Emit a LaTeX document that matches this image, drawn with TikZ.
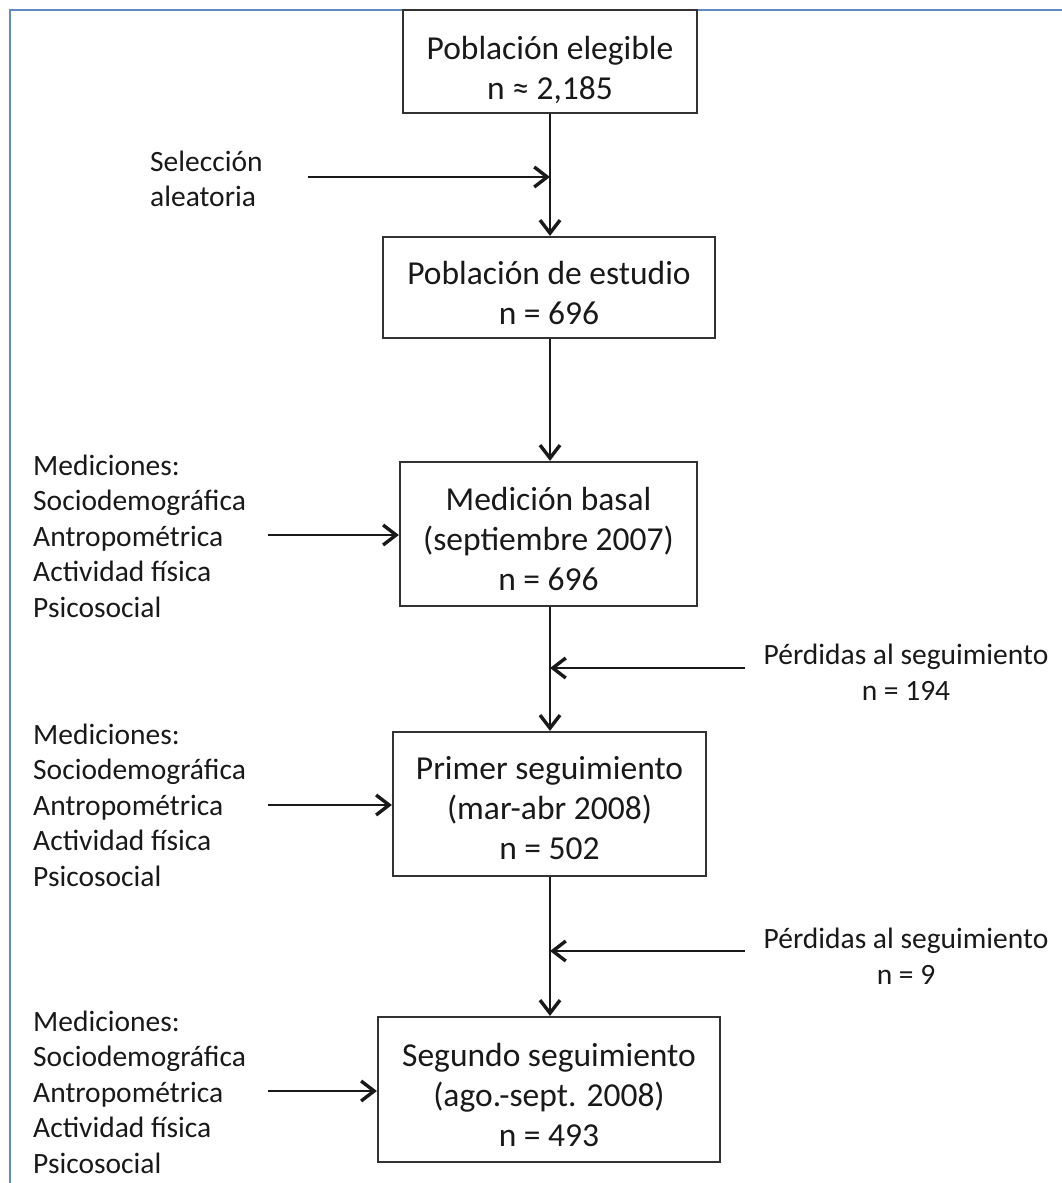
\documentclass[tikz,border=0pt]{standalone}
\usepackage{fontspec}
\setmainfont{Carlito}
\usetikzlibrary{arrows.meta}
\definecolor{boxgray}{RGB}{50,50,50}
\definecolor{linegray}{RGB}{25,25,25}
\definecolor{txtgray}{RGB}{25,25,25}
\definecolor{framec}{RGB}{95,140,200}
\newcommand\tstrut[1]{\rule{0pt}{#1}}
\begin{document}
\begin{tikzpicture}[x=1pt,y=1pt,
 box/.style={draw=boxgray, line width=2.2pt, align=center, inner sep=0pt, font=\fontsize{33.5}{40}\selectfont, text=txtgray},
 side/.style={align=left, inner sep=0pt, font=\fontsize{29.5}{35.5}\selectfont, text=txtgray},
 sidec/.style={align=center, inner sep=0pt, font=\fontsize{29.5}{35.5}\selectfont, text=txtgray},
 conn/.style={line width=2.5pt, draw=linegray, -{Straight Barb[length=13pt,width=20pt,line width=3.4pt]}},
]
\useasboundingbox (0,0) rectangle (1062,-1183);
\draw[framec, line width=2pt] (10,-1183) -- (10,-9.5) -- (1062,-9.5);

\node[box, minimum width=294, minimum height=103] (b1) at (550,-61.5) {\tstrut{40pt}Población elegible\\n ≈ 2,185};
\node[box, minimum width=332, minimum height=101] (b2) at (549,-287.5) {\tstrut{34pt}Población de estudio\\n = 696};
\node[box, minimum width=297, minimum height=144] (b3) at (548.5,-534) {\tstrut{34pt}Medición basal\\(septiembre 2007)\\n = 696};
\node[box, minimum width=313, minimum height=144] (b4) at (549.5,-804) {\tstrut{32pt}Primer seguimiento\\(mar-abr 2008)\\n = 502};
\node[box, minimum width=342, minimum height=145] (b5) at (549,-1089.5) {\tstrut{34pt}Segundo seguimiento\\(ago.-sept. 2008)\\n = 493};

\coordinate (j1) at (550,-177);
\coordinate (j2) at (550,-668);
\coordinate (j3) at (550,-951);

\draw[conn] (b1.south -| j1) -- (b2.north -| j1);
\draw[conn] (b2.south -| j1) -- (b3.north -| j1);
\draw[conn] (b3.south -| j2) -- (b4.north -| j2);
\draw[conn] (b4.south -| j3) -- (b5.north -| j3);

\coordinate (s1) at (308,-177);
\draw[conn] (s1) -- (j1);
\node[side, anchor=west] (t1) at (150,-179) {Selección\\aleatoria};

\coordinate (m3) at (268,-535);
\coordinate (m4) at (268,-805);
\coordinate (m5) at (268,-1091);
\draw[conn] (m3) -- (m3 -| b3.west);
\draw[conn] (m4) -- (m4 -| b4.west);
\draw[conn] (m5) -- (m5 -| b5.west);
\node[side, anchor=west] (t3) at (33,-536) {Mediciones:\\Sociodemográfica\\Antropométrica\\Actividad física\\Psicosocial};
\node[side, anchor=west] (t4) at (33,-805) {Mediciones:\\Sociodemográfica\\Antropométrica\\Actividad física\\Psicosocial};
\node[side, anchor=west] (t5) at (33,-1092) {Mediciones:\\Sociodemográfica\\Antropométrica\\Actividad física\\Psicosocial};

\coordinate (r1) at (745,-668);
\coordinate (r2) at (745,-951);
\draw[conn] (r1) -- (j2);
\draw[conn] (r2) -- (j3);
\node[sidec] (p1) at (906,-672) {Pérdidas al seguimiento\\n = 194};
\node[sidec] (p2) at (906,-956) {Pérdidas al seguimiento\\n = 9};
\end{tikzpicture}
\end{document}
